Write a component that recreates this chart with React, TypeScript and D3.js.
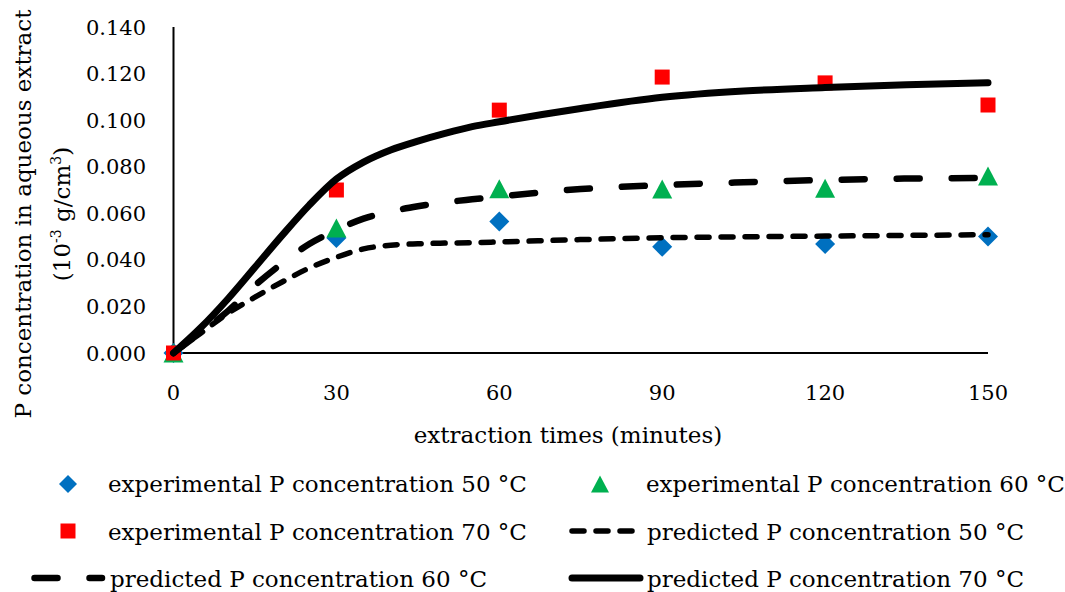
import React from "react";
import * as d3 from "d3";

const times = [0, 30, 60, 90, 120, 150];
const exp50 = [0, 0.0494, 0.0565, 0.0456, 0.0468, 0.0500];
const exp60 = [0, 0.0537, 0.0705, 0.0704, 0.0708, 0.0760];
const exp70 = [0, 0.0700, 0.1043, 0.1185, 0.1160, 0.1065];

const predTimes = [0, 5, 10, 15, 20, 25, 30, 35, 40, 45, 50, 55, 60, 75, 90, 105, 120, 135, 150];
const pred50 = [0, 0.0085, 0.0170, 0.0240, 0.0305, 0.0365, 0.0411, 0.0447, 0.0463, 0.0469, 0.0472, 0.0474, 0.0477, 0.0487, 0.0495, 0.0499, 0.0502, 0.0505, 0.0508];
const pred60 = [0, 0.0088, 0.0180, 0.0290, 0.0385, 0.0468, 0.0528, 0.0577, 0.0608, 0.0630, 0.0647, 0.0660, 0.0672, 0.0704, 0.0721, 0.0733, 0.0743, 0.0749, 0.0752];
const pred70 = [0, 0.0108, 0.0232, 0.0368, 0.0505, 0.0635, 0.0747, 0.0820, 0.0872, 0.0910, 0.0943, 0.0972, 0.0993, 0.1050, 0.1098, 0.1125, 0.1140, 0.1152, 0.1161];

const yTicks = [0, 0.02, 0.04, 0.06, 0.08, 0.1, 0.12, 0.14];
const xTicks = [0, 30, 60, 90, 120, 150];

const legendLabels = [
  "experimental P concentration 50 °C",
  "experimental P concentration 60 °C",
  "experimental P concentration 70 °C",
  "predicted P concentration 50 °C",
  "predicted P concentration 60 °C",
  "predicted P concentration 70 °C",
];

const BLUE = "#0070C0";
const GREEN = "#00B050";
const RED = "#FF0000";
const FONT = "'DejaVu Serif', serif";

const diamond = (s: number) => `M0,${-s}L${s},0L0,${s}L${-s},0Z`;
const triangle = (w: number, h: number) => `M0,${-h / 2}L${w / 2},${h / 2}L${-w / 2},${h / 2}Z`;
const square = (s: number) => `M${-s / 2},${-s / 2}h${s}v${s}h${-s}Z`;

export default function App() {
  const x = d3.scaleLinear().domain([0, 150]).range([173.5, 988]);
  const y = d3.scaleLinear().domain([0, 0.14]).range([353, 27]);

  const line = d3
    .line<[number, number]>()
    .x((d) => x(d[0]))
    .y((d) => y(d[1]))
    .curve(d3.curveMonotoneX);

  const mk = (vals: number[]) => predTimes.map((t, i) => [t, vals[i]] as [number, number]);

  return (
    <svg
      width={1065}
      height={592}
      style={{ position: "absolute", left: 0, top: 0, background: "#fff" }}
      fontFamily={FONT}
    >
      <rect width={1065} height={592} fill="#fff" />
      {/* axes */}
      <line x1={x(0)} x2={x(0)} y1={y(0.14)} y2={y(0)} stroke="#000" strokeWidth={2} />
      <line x1={x(0)} x2={x(150)} y1={y(0)} y2={y(0)} stroke="#000" strokeWidth={2} />

      {yTicks.map((v) => (
        <text key={v} x={146} y={y(v)} dy="0.36em" textAnchor="end" fontSize={21}>
          {v.toFixed(3)}
        </text>
      ))}
      {xTicks.map((t) => (
        <text key={t} x={x(t)} y={400} textAnchor="middle" fontSize={21}>
          {t}
        </text>
      ))}

      <text x={568} y={443} textAnchor="middle" fontSize={23}>
        extraction times (minutes)
      </text>
      <text transform="translate(31,214) rotate(-90)" textAnchor="middle" fontSize={23}>
        P concentration in aqueous extract
      </text>
      <text transform="translate(70,214) rotate(-90)" textAnchor="middle" fontSize={23}>
        (10<tspan fontSize={14} dy={-9}>-3</tspan>
        <tspan dy={9}> g/cm</tspan>
        <tspan fontSize={14} dy={-9}>3</tspan>
        <tspan dy={9}>)</tspan>
      </text>

      {/* markers */}
      {times.map((t, i) => (
        <path key={"d" + i} d={diamond(10)} transform={`translate(${x(t)},${y(exp50[i])})`} fill={BLUE} />
      ))}
      {times.map((t, i) => (
        <path key={"t" + i} d={triangle(20, 19)} transform={`translate(${x(t)},${y(exp60[i])})`} fill={GREEN} />
      ))}
      {times.map((t, i) => (
        <path key={"s" + i} d={square(15)} transform={`translate(${x(t)},${y(exp70[i])})`} fill={RED} />
      ))}

      {/* predicted lines */}
      <path d={line(mk(pred50)) || ""} fill="none" stroke="#000" strokeWidth={5.5} strokeDasharray="12,12" strokeLinecap="round" />
      <path d={line(mk(pred60)) || ""} fill="none" stroke="#000" strokeWidth={6.5} strokeDasharray="23,32" strokeLinecap="round" />
      <path d={line(mk(pred70)) || ""} fill="none" stroke="#000" strokeWidth={7} strokeLinecap="round" />

      {/* legend */}
      <path d={diamond(9)} transform="translate(68,484)" fill={BLUE} />
      <text x={108} y={492} fontSize={23}>{legendLabels[0]}</text>
      <path d={triangle(18, 17)} transform="translate(600,484)" fill={GREEN} />
      <text x={646} y={492} fontSize={23}>{legendLabels[1]}</text>

      <path d={square(15)} transform="translate(68,531)" fill={RED} />
      <text x={108} y={540} fontSize={23}>{legendLabels[2]}</text>
      <line x1={572} x2={632} y1={531} y2={531} stroke="#000" strokeWidth={5.5} strokeDasharray="12,12" strokeLinecap="round" />
      <text x={647} y={540} fontSize={23}>{legendLabels[3]}</text>

      <line x1={34.5} x2={102} y1={578} y2={578} stroke="#000" strokeWidth={6.5} strokeDasharray="23,32" strokeLinecap="round" />
      <text x={110} y={587} fontSize={23}>{legendLabels[4]}</text>
      <line x1={572} x2={640} y1={578} y2={578} stroke="#000" strokeWidth={7} strokeLinecap="round" />
      <text x={647} y={587} fontSize={23}>{legendLabels[5]}</text>
    </svg>
  );
}
